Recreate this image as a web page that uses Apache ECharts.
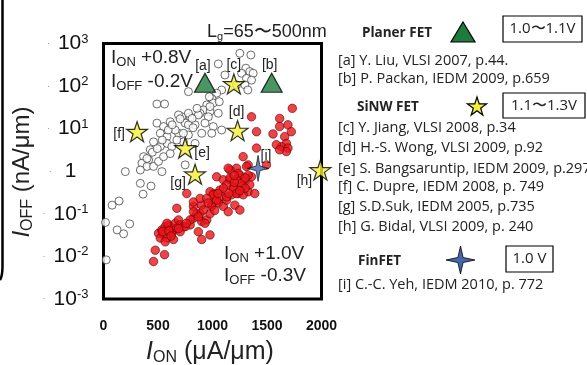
<!DOCTYPE html>
<html><head><meta charset="utf-8">
<script src="https://cdn.jsdelivr.net/npm/echarts@6/dist/echarts.min.js"></script>
<style>html,body{margin:0;padding:0;background:#fff}#c{width:587px;height:365px}</style>
</head><body><div id="c"></div>
<script>
// ---- data (I_ON in uA/um, I_OFF in nA/um) ----
const xTicks = [0, 500, 1000, 1500, 2000];
const yTickExp = [-3, -2, -1, 0, 1, 2, 3];

// open circles: I_ON +0.8V / I_OFF -0.2V
const openOn = [1251,1352,1053,1306,1342,1373,1267,1114,1312,1358,1297,1324,1084,1038,993,1007,1062,947,916,977,886,795,719,779,971,977,490,560,688,779,870,962,1053,749,840,931,1007,1084,688,779,901,993,733,840,749,490,551,612,703,521,582,658,459,582,627,521,429,368,414,353,399,338,459,505,551,612,673,733,779,536,200,338,436,363,79,143,18,125,185,240,25,399,448,493,539,594,630,813,858,822,1221];
const openOff = [589,537,331,263,219,200,200,182,151,138,107,81,81,68,51,40,43,36,27.5,25,23,19,19,74,56,33,38,38,21,23,21,19,23,13.5,12.3,13.5,11.2,9.3,7.8,7.1,7.8,7.8,4.9,4.5,1.41,13.5,11.2,14.5,17,7.8,6.5,9.3,4.9,4.5,3.8,3.8,3.2,2.2,1.85,1.55,1.3,1.07,1.3,1.7,2.2,2.6,5.4,7.8,12.3,0.98,0.98,0.52,0.45,0.29,0.16,0.20,0.063,0.042,0.034,0.058,0.0083,2.0,2.8,3.4,5.4,9.3,12.3,17.4,30,10.5,107];

// red dots: I_ON +1.0V / I_OFF -0.3V
const redOn = [505,536,566,596,551,521,582,566,627,642,612,658,688,703,733,673,703,642,475,560,459,795,825,856,825,901,886,901,870,901,977,947,977,993,1023,1007,1068,1084,1053,1099,1130,1175,1190,1144,1205,1251,673,825,977,886,1358,1404,1555,1616,1732,1616,1692,1723,1662,1678,1632,1586,1692,1678,1616,1404,1281,1327,1221,1251,1297,1342,1267,1327,1388,1236,1358,1495,1312,1236,1160,1160,1221,1144,1327,1038,1099,1160,1267,1190,1130,1007,947,1038,1130,1221,1281,993,916,825,870,795,764,749,931,582,540,600,620,690,760,1100,1200,1300,1250,1150,1050,960,1020,1300,1200];
const redOff = [0.035,0.042,0.050,0.055,0.032,0.027,0.027,0.022,0.035,0.042,0.050,0.060,0.072,0.055,0.050,0.046,0.038,0.025,0.014,0.011,0.0076,0.055,0.079,0.10,0.15,0.16,0.10,0.066,0.038,0.025,0.032,0.072,0.10,0.16,0.21,0.30,0.36,0.25,0.18,0.15,0.21,0.28,0.44,0.112,0.16,0.123,0.135,0.19,0.33,0.23,19,8.5,7.5,17.4,30,11.2,12.3,8.5,6.5,4.5,3.8,4.2,3.5,2.9,3.2,3.5,2.2,1.41,1.18,0.81,0.58,0.48,0.44,0.33,0.30,0.30,0.74,1.41,1.3,0.89,1.07,0.63,0.63,1.18,0.81,0.74,0.63,0.69,0.52,0.40,0.48,0.28,0.23,0.21,0.25,0.30,0.28,0.15,0.123,0.112,0.085,0.072,0.30,0.050,0.060,0.060,0.038,0.040,0.030,0.045,0.060,0.40,0.55,0.40,0.35,0.30,0.30,0.18,0.12,0.70,0.80];

// literature markers
const planarOn = [931, 1543];
const planarOff = [120, 120];
const planarTags = ['[a]', '[b]'];
const sinwOn = [1196, 1230, 749, 308, 840, 1990];
const sinwOff = [112, 9.0, 3.5, 8.5, 0.85, 1.07];
const sinwTags = ['[c]', '[d]', '[e]', '[f]', '[g]', '[h]'];
const finOn = [1418];
const finOff = [1.17];
const finTags = ['[i]'];

const planarRefs = ['[a] Y. Liu, VLSI 2007, p.44.', '[b] P. Packan, IEDM 2009, p.659'];
const sinwRefs = ['[c] Y. Jiang, VLSI 2008, p.34', '[d] H.-S. Wong, VLSI 2009, p.92', '[e] S. Bangsaruntip, IEDM 2009, p.297', '[f] C. Dupre, IEDM 2008, p. 749', '[g] S.D.Suk, IEDM 2005, p.735', '[h] G. Bidal, VLSI 2009, p. 240'];
const finRefs = ['[i] C.-C. Yeh, IEDM 2010, p. 772'];
const groupNames = ['Planer FET', 'SiNW FET', 'FinFET'];
const groupVolt = ['1.0\u301C1.1V', '1.1\u301C1.3V', '1.0 V'];

// ---- styling ----
const tagOffset = {'[a]':[-2,-17],'[b]':[-2,-18],'[c]':[0,-19],'[d]':[-1,-18],'[e]':[17,5],'[f]':[-18,2],'[g]':[-17,9],'[h]':[-16,11],'[i]':[8,-12]};
const STAR_PTS = [[50,0],[61.2,34.5],[97.6,34.5],[68.2,55.9],[79.4,90.5],[50,69.1],[20.6,90.5],[31.8,55.9],[2.4,34.5],[38.8,34.5]];
const FOUR_PTS = [[50,0],[59,41],[100,50],[59,59],[50,100],[41,59],[0,50],[41,41]];
const toPath = p => 'path://M' + p.map(q => q[0] + ',' + q[1]).join('L') + 'Z';
const STAR = toPath(STAR_PTS);
const FOUR = toPath(FOUR_PTS);
const scalePts = (p, x, y, w, h) => p.map(q => [x + q[0] * w / 100, y + q[1] * h / 100]);
const TXT = '#222';
const PF = 'Liberation Sans, Arial, sans-serif';
const LF = '"Open Sans", "Noto Sans", sans-serif';

function pts(xs, ys, tags) {
  return xs.map((x, i) => {
    const d = { value: [x, ys[i]] };
    if (tags) d.label = { offset: tagOffset[tags[i]], formatter: tags[i], color: '#222' };
    return d;
  });
}
const tagLabel = { show: true, position: 'inside', color: '#222', fontFamily: PF, fontSize: 14, textBorderWidth: 0, opacity: 1 };

const chart = echarts.init(document.getElementById('c'), null, { renderer: 'canvas' });

const graphic = [];
// left frame fragment
graphic.push({ type: 'line', shape: { x1: 2.5, y1: 0, x2: 2.5, y2: 266 }, style: { stroke: '#000', lineWidth: 2.5 } });
graphic.push({ type: 'bezierCurve', shape: { x1: 2.5, y1: 266, cpx1: 2.5, cpy1: 276, x2: 0, y2: 280 }, style: { stroke: '#000', lineWidth: 2.5, fill: null } });
// axis titles
graphic.push({ type: 'text', x: 22, y: 172, rotation: Math.PI / 2,
  style: { text: '{i|I}{s|OFF}{m| (nA/\u03BCm)}', textAlign: 'center', textVerticalAlign: 'middle',
    rich: { i: { fontFamily: PF, fontSize: 24, fontStyle: 'italic', fill: TXT, lineHeight: 28 },
            s: { fontFamily: PF, fontSize: 16, fill: TXT, verticalAlign: 'bottom', lineHeight: 16 },
            m: { fontFamily: PF, fontSize: 24, fill: TXT, lineHeight: 28 } } } });
graphic.push({ type: 'text', x: 210, y: 352,
  style: { text: '{i|I}{s|ON}{m| (\u03BCA/\u03BCm)}', textAlign: 'center', textVerticalAlign: 'middle',
    rich: { i: { fontFamily: PF, fontSize: 25, fontStyle: 'italic', fill: TXT, lineHeight: 28 },
            s: { fontFamily: PF, fontSize: 16, fill: TXT, verticalAlign: 'bottom', lineHeight: 16 },
            m: { fontFamily: PF, fontSize: 25, fill: TXT, lineHeight: 28 } } } });
// gate length
graphic.push({ type: 'text', x: 207, y: 32,
  style: { text: '{m|L}{s|g}{m|=65\u301C500nm}', textAlign: 'left', textVerticalAlign: 'middle',
    rich: { m: { fontFamily: PF, fontSize: 18, fill: TXT, lineHeight: 20 },
            s: { fontFamily: PF, fontSize: 11, fill: TXT, verticalAlign: 'bottom', lineHeight: 11 } } } });
// in-plot bias notes
function biasText(x, y, sub, val) {
  graphic.push({ type: 'text', x: x, y: y, z: 50,
    style: { text: '{m|I}{s|' + sub + '}{m| ' + val + '}', textAlign: 'left', textVerticalAlign: 'middle',
      rich: { m: { fontFamily: PF, fontSize: 19, fill: TXT, lineHeight: 22 },
              s: { fontFamily: PF, fontSize: 13, fill: TXT, verticalAlign: 'bottom', lineHeight: 13 } } } });
}
biasText(111, 58, 'ON', '+0.8V');
biasText(111, 82, 'OFF', '-0.2V');
biasText(224, 254, 'ON', '+1.0V');
biasText(224, 276, 'OFF', '-0.3V');

// right-hand legend
function lt(x, y, t, bold) {
  graphic.push({ type: 'text', x: x, y: y, style: { text: t, fill: TXT, font: (bold ? 'bold 13.5px ' : '14.5px ') + LF, textAlign: 'left', textVerticalAlign: 'middle' } });
}
function vbox(x, y, w, h, t) {
  graphic.push({ type: 'rect', shape: { x: x, y: y, width: w, height: h }, style: { fill: '#fff', stroke: '#000', lineWidth: 1.2 } });
  graphic.push({ type: 'text', x: x + w / 2, y: y + h / 2, style: { text: t, fill: TXT, font: '15px ' + LF, textAlign: 'center', textVerticalAlign: 'middle' } });
}
lt(362, 33, groupNames[0], true);
graphic.push({ type: 'polygon', shape: { points: [[463, 22], [475, 42], [451, 42]] }, style: { fill: '#1e7b3b', stroke: '#000', lineWidth: 1.2 } });
vbox(503, 16, 79, 26, groupVolt[0]);
lt(338, 61, planarRefs[0]);
lt(338, 79, planarRefs[1]);
lt(357, 107, groupNames[1], true);
graphic.push({ type: 'polygon', shape: { points: scalePts(STAR_PTS, 467, 97, 20, 20) }, style: { fill: '#f4ef3a', stroke: '#000', lineWidth: 1.2 } });
vbox(503, 93, 82, 25, groupVolt[1]);
const sinwY = [128, 148, 169, 187, 207, 227];
sinwRefs.forEach((t, i) => lt(338, sinwY[i], t));
lt(358, 261, groupNames[2], true);
graphic.push({ type: 'polygon', shape: { points: scalePts(FOUR_PTS, 446, 246, 29, 28) }, style: { fill: '#4466aa', stroke: '#000', lineWidth: 0.8 } });
vbox(506, 246, 47, 26, groupVolt[2]);
lt(338, 285, finRefs[0]);

const option = {
  animation: false,
  backgroundColor: '#fff',
  grid: { left: 103.5, top: 43.5, width: 218, height: 255.5, show: true, borderColor: '#000', borderWidth: 3, backgroundColor: 'transparent' },
  xAxis: {
    type: 'value', min: xTicks[0], max: xTicks[xTicks.length - 1], interval: 500,
    axisLine: { show: false }, axisTick: { show: false }, splitLine: { show: false },
    axisLabel: { margin: 20, color: '#111', fontFamily: PF, fontWeight: 'bold', fontSize: 14,
      formatter: v => xTicks.includes(v) ? String(v) : '' }
  },
  yAxis: {
    type: 'log', logBase: 10, min: Math.pow(10, yTickExp[0]), max: Math.pow(10, yTickExp[yTickExp.length - 1]),
    axisLine: { show: false }, axisTick: { show: false }, splitLine: { show: false }, minorTick: { show: false },
    axisLabel: {
      margin: 15, fontFamily: PF, color: '#111',
      formatter: v => {
        const e = Math.round(Math.log10(v));
        if (!yTickExp.includes(e)) return '';
        return e === 0 ? '{d|\u00B7}{one|1}' : '{d|\u00B7}{b|10}{s|' + e + '}';
      },
      rich: {
        d: { color: '#c8824a', fontSize: 9, padding: [0, 8, 0, 0], lineHeight: 20 },
        b: { fontSize: 21, color: '#111', fontFamily: PF, lineHeight: 22 },
        one: { fontSize: 21, color: '#111', fontFamily: PF, lineHeight: 22, padding: [0, 12, 0, 5] },
        s: { fontSize: 13, color: '#111', fontFamily: PF, verticalAlign: 'top', lineHeight: 13 }
      }
    }
  },
  series: [
    { type: 'scatter', name: 'open', data: pts(openOn, openOff), symbol: 'circle', symbolSize: 8, clip: false,
      itemStyle: { color: '#fff', borderColor: '#333', borderWidth: 0.9 }, z: 2 },
    { type: 'scatter', name: 'red', data: pts(redOn, redOff), symbol: 'circle', symbolSize: 8.5, clip: false,
      itemStyle: { color: '#e8151b', borderColor: '#6a0000', borderWidth: 0.8 }, z: 3 },
    { type: 'scatter', name: groupNames[0], data: pts(planarOn, planarOff, planarTags), symbol: 'triangle', symbolSize: [21, 19], clip: false,
      itemStyle: { color: '#1e7b3b', borderColor: '#000', borderWidth: 1.2 }, label: tagLabel, z: 5 },
    { type: 'scatter', name: groupNames[1], data: pts(sinwOn, sinwOff, sinwTags), symbol: STAR, symbolSize: [21, 20], clip: false,
      itemStyle: { color: '#f4ef3a', borderColor: '#000', borderWidth: 1.2 }, label: tagLabel, z: 5 },
    { type: 'scatter', name: groupNames[2], data: pts(finOn, finOff, finTags), symbol: FOUR, symbolSize: [21, 26], clip: false,
      itemStyle: { color: '#4466aa', borderColor: '#000', borderWidth: 0.8 }, label: tagLabel, z: 5 }
  ],
  graphic: graphic
};
chart.setOption(option);
</script>
</body></html>
